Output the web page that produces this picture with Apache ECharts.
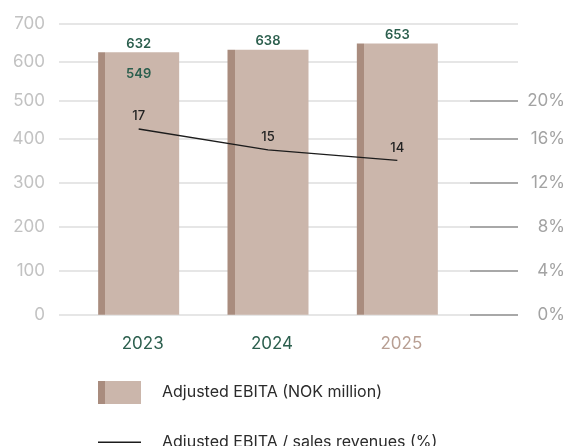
<!DOCTYPE html>
<html>
<head>
<meta charset="utf-8">
<script src="https://cdn.jsdelivr.net/npm/echarts@6/dist/echarts.min.js"></script>
<style>
  html, body { margin: 0; padding: 0; background: #fff; }
  #chart { width: 568px; height: 446px; }
</style>
</head>
<body>
<div id="chart"></div>
<script>
// Data
const years = ['2023', '2024', '2025'];
const ebita = [632, 638, 653];
const ebitaMargin = [17, 15, 14];
const ebita2023Note = [549, null, null];
const leftTicksLow = [0, 100, 200, 300, 400];
const leftTicksHigh = [500, 600, 700];
const rightTicksLow = [0, 4, 8, 12, 16];
const rightTicksHigh = [20];

const barName = 'Adjusted EBITA (NOK million)';
const lineName = 'Adjusted EBITA / sales revenues (%)';

const FONT = 'Inter, Roboto, sans-serif';
const GREEN = '#2c5f4e';
const BAR_DARK = '#a98c7e';
const BAR_LIGHT = '#cbb6ab';
const GRID_LINE = '#e6e6e6';
const LINE_COLOR = '#1c1c1c';

function twoTone(split) {
  return {
    type: 'linear', x: 0, y: 0, x2: 1, y2: 0,
    colorStops: [
      { offset: 0, color: BAR_DARK },
      { offset: split, color: BAR_DARK },
      { offset: split, color: BAR_LIGHT },
      { offset: 1, color: BAR_LIGHT }
    ]
  };
}

const chart = echarts.init(document.getElementById('chart'), null, { renderer: 'canvas' });

const hiddenValueX = (gridIndex) => ({ type: 'value', gridIndex, show: false, min: 0, max: 1 });

const leftLabel = { color: '#c2c2c2', fontSize: 17, fontFamily: FONT, margin: 14 };
const rightLabel = {
  color: '#a3a3a3', fontSize: 17, fontFamily: FONT, margin: 47, align: 'right',
  formatter: '{value}%'
};
const rightTick = { show: true, inside: true, length: 48, lineStyle: { color: '#a8a8a8', width: 2 } };
const legendText = { fontSize: 16, fontFamily: FONT, color: '#2b2b2b', padding: [0, 0, 0, 16] };

chart.setOption({
  animation: false,
  textStyle: { fontFamily: FONT },
  grid: [
    // background gridlines, lower part (0–400 / 0–16 %)
    { left: 59, right: 50, top: 138.7, bottom: 131.3 },
    // background gridlines, upper part (400–700 / 16–28 %)
    { left: 59, right: 50, top: 24, bottom: 307.3 },
    // bars
    { left: 74, right: 106, top: 24, bottom: 131.3 },
    // margin line
    { left: 74, right: 106, top: 13.8, bottom: 139 }
  ],
  xAxis: [
    hiddenValueX(0),
    hiddenValueX(1),
    {
      type: 'category', gridIndex: 2,
      data: years.map((y, i) => ({
        value: y,
        textStyle: { color: i < 2 ? GREEN : '#b89f93' }
      })),
      axisLine: { show: false }, axisTick: { show: false },
      axisLabel: { fontSize: 17, fontFamily: FONT, margin: 21, padding: [0, 0, 0, 8] }
    },
    { type: 'category', gridIndex: 3, data: years, show: false }
  ],
  yAxis: [
    // 0: left, lower
    {
      type: 'value', gridIndex: 0, position: 'left', min: 0, max: 400, interval: 100,
      axisLine: { show: false }, axisTick: { show: false },
      axisLabel: Object.assign({ customValues: leftTicksLow }, leftLabel),
      splitLine: { show: true, lineStyle: { color: GRID_LINE, width: 2 } }
    },
    // 1: right, lower
    {
      type: 'value', gridIndex: 0, position: 'right', min: 0, max: 16, interval: 4,
      axisLine: { show: false },
      axisTick: Object.assign({ customValues: rightTicksLow }, rightTick),
      axisLabel: Object.assign({ customValues: rightTicksLow }, rightLabel),
      splitLine: { show: false }
    },
    // 2: left, upper
    {
      type: 'value', gridIndex: 1, position: 'left', min: 400, max: 700, interval: 100,
      axisLine: { show: false }, axisTick: { show: false },
      axisLabel: Object.assign({ customValues: leftTicksHigh }, leftLabel),
      splitLine: { show: true, lineStyle: { color: GRID_LINE, width: 2 } }
    },
    // 3: right, upper
    {
      type: 'value', gridIndex: 1, position: 'right', min: 16, max: 28, interval: 4,
      axisLine: { show: false },
      axisTick: Object.assign({ customValues: rightTicksHigh }, rightTick),
      axisLabel: Object.assign({ customValues: rightTicksHigh }, rightLabel),
      splitLine: { show: false }
    },
    // 4: bar scale
    { type: 'value', gridIndex: 2, min: 0, max: 700, show: false, splitLine: { show: false } },
    // 5: margin scale
    { type: 'value', gridIndex: 3, min: 0, max: 28, show: false, splitLine: { show: false } }
  ],
  legend: [
    {
      left: 98, top: 381, padding: 0,
      itemWidth: 43, itemHeight: 23,
      textStyle: legendText,
      data: [{ name: barName, icon: 'rect', itemStyle: { color: twoTone(0.16) } }]
    },
    {
      left: 98, top: 434.3, padding: 0,
      itemWidth: 43, itemHeight: 1.4,
      textStyle: legendText,
      data: [{ name: lineName, icon: 'rect', itemStyle: { color: LINE_COLOR } }]
    }
  ],
  series: [
    {
      name: barName, type: 'bar', xAxisIndex: 2, yAxisIndex: 4,
      data: ebita, barWidth: 81,
      itemStyle: { color: twoTone(0.09) },
      label: {
        show: true, position: 'top', distance: 2,
        color: GREEN, fontSize: 13, fontWeight: 600, fontFamily: FONT
      }
    },
    {
      name: '2023 note', type: 'scatter', xAxisIndex: 2, yAxisIndex: 4,
      data: ebita2023Note, symbolSize: 0, silent: true,
      itemStyle: { opacity: 1 },
      label: {
        show: true, position: 'top', distance: 6,
        color: GREEN, fontSize: 13, fontWeight: 600, fontFamily: FONT,
        formatter: (p) => p.value
      }
    },
    {
      name: lineName, type: 'line', xAxisIndex: 3, yAxisIndex: 5,
      data: ebitaMargin, symbol: 'circle', symbolSize: 0.01, showSymbol: true,
      lineStyle: { color: LINE_COLOR, width: 1.3 },
      itemStyle: { color: LINE_COLOR },
      label: {
        show: true, position: 'top', distance: 6,
        color: '#222', fontSize: 13, fontWeight: 500, fontFamily: FONT
      },
      z: 5
    }
  ]
});
</script>
</body>
</html>
